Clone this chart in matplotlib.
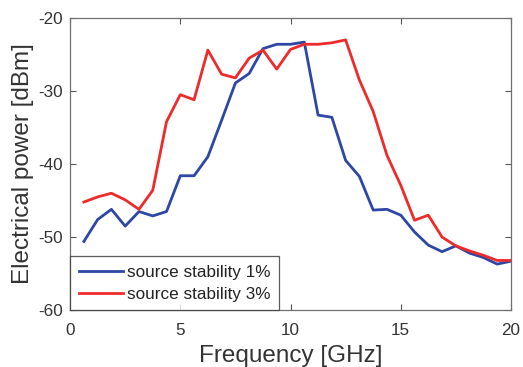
import numpy as np
import matplotlib
matplotlib.use("Agg")
import matplotlib.pyplot as plt

plt.rcParams['font.family'] = ['Liberation Sans', 'DejaVu Sans']
plt.rcParams['axes.unicode_minus'] = False

freq = [0.625 * k for k in range(1, 33)]
stab1 = [-50.6, -47.6, -46.2, -48.5, -46.5, -47.1, -46.5, -41.6, -41.6, -39.0,
         -34.0, -28.9, -27.6, -24.2, -23.6, -23.6, -23.3, -33.3, -33.6, -39.5,
         -41.7, -46.3, -46.2, -47.0, -49.3, -51.1, -52.0, -51.2, -52.2, -52.8,
         -53.7, -53.3]
stab3 = [-45.2, -44.5, -44.0, -44.9, -46.2, -43.6, -34.2, -30.5, -31.2, -24.4,
         -27.7, -28.2, -25.5, -24.4, -27.0, -24.3, -23.6, -23.6, -23.4, -23.0,
         -28.5, -32.8, -38.8, -42.9, -47.7, -47.0, -50.0, -51.2, -51.9, -52.5,
         -53.2, -53.2]
labels = ['source stability 1%', 'source stability 3%']

fig = plt.figure(figsize=(5.23, 3.67), dpi=100)
ax = fig.add_axes([0.134, 0.155, 0.843, 0.796])
ax.plot(freq, stab1, color='#2E46A4', lw=2.0, label=labels[0])
ax.plot(freq, stab3, color='#EE2B2B', lw=2.0, label=labels[1])
ax.set_xlim(0, 20)
ax.set_ylim(-60, -20)
ax.set_xticks([0, 5, 10, 15, 20])
ax.set_yticks([-60, -50, -40, -30, -20])
ax.tick_params(direction='in', top=True, right=True, length=4, width=0.8,
               colors='#555555', labelcolor='#333333', labelsize=12.3, pad=5)
ax.tick_params(axis='x', pad=9)
for s in ax.spines.values():
    s.set_color('#707070')
    s.set_linewidth(0.9)
ax.set_xlabel('Frequency [GHz]', fontsize=17.5, color='#333333', labelpad=5)
ax.set_ylabel('Electrical power [dBm]', fontsize=17.5, color='#333333', labelpad=3)
leg = ax.legend(loc='lower left', fontsize=12.3, handlelength=2.6, borderaxespad=0,
                frameon=True, fancybox=False, borderpad=0.5, labelspacing=0.4,
                handletextpad=0.25)
leg.get_frame().set_edgecolor('#333333')
leg.get_frame().set_linewidth(0.9)
for t in leg.get_texts():
    t.set_color('#222222')
fig.savefig('out.png', dpi=100)
